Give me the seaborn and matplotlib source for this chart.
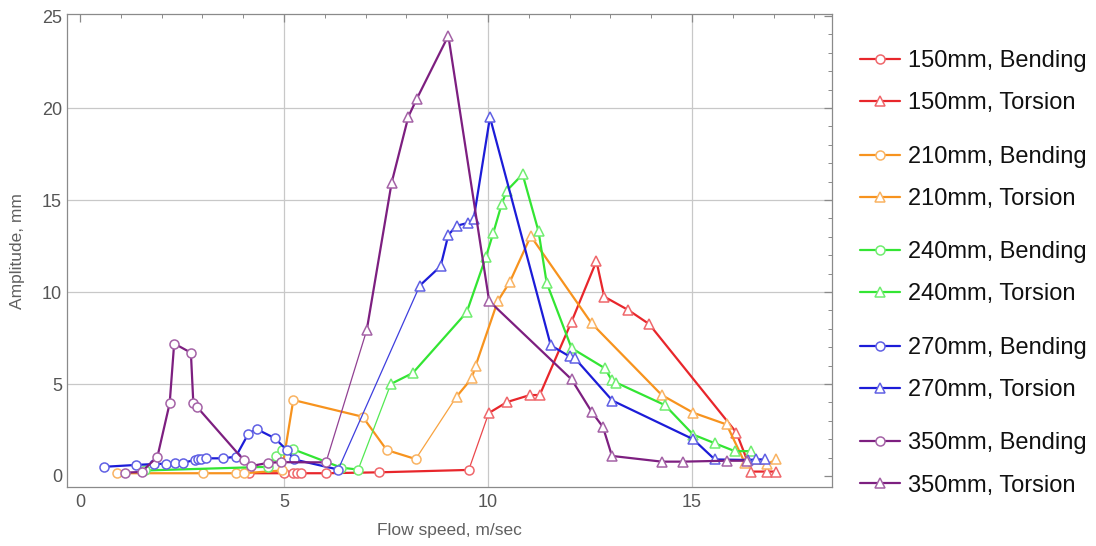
import matplotlib
matplotlib.use("Agg")
import matplotlib.pyplot as plt
import seaborn as sns
import pandas as pd
from matplotlib.colors import to_rgb

# 150 mm
red_bend_x = [4.15, 5.0, 5.23, 5.33, 5.43, 6.03, 7.34, 9.53]
red_bend_y = [0.15, 0.15, 0.15, 0.15, 0.15, 0.15, 0.2, 0.33]
red_tors_x = [10.02, 10.47, 11.03, 11.27, 12.05, 12.66, 12.85, 13.44, 13.95, 16.09, 16.46, 16.85, 17.07]
red_tors_y = [3.42, 4.02, 4.4, 4.4, 8.39, 11.68, 9.75, 9.02, 8.26, 2.36, 0.24, 0.24, 0.24]

# 210 mm
org_bend_x = [0.9, 3.02, 3.82, 4.02, 4.95, 5.23, 6.93, 7.52, 8.23]
org_bend_y = [0.15, 0.15, 0.15, 0.15, 0.3, 4.13, 3.22, 1.41, 0.92]
org_tors_x = [9.23, 9.6, 9.7, 10.24, 10.54, 11.05, 12.54, 14.26, 15.03, 15.85, 16.3, 16.85, 17.07]
org_tors_y = [4.31, 5.3, 6.0, 9.5, 10.56, 13.04, 8.3, 4.4, 3.44, 2.8, 0.7, 0.65, 0.9]

# 240 mm
grn_bend_x = [1.6, 4.62, 4.8, 4.95, 5.23, 6.41, 6.82]
grn_bend_y = [0.3, 0.5, 1.1, 1.4, 1.45, 0.45, 0.35]
grn_tors_x = [7.62, 8.16, 9.48, 9.95, 10.13, 10.34, 10.46, 10.85, 11.24, 11.44, 12.05,
              12.87, 13.03, 13.15, 14.34, 15.03, 15.56, 16.05, 16.46]
grn_tors_y = [5.0, 5.6, 8.9, 11.9, 13.2, 14.8, 15.5, 16.4, 13.3, 10.5, 6.95,
              5.85, 5.22, 5.07, 3.85, 2.25, 1.78, 1.35, 1.35]

# 270 mm
blu_bend_x = [0.6, 1.37, 1.82, 2.11, 2.33, 2.53, 2.82, 2.9, 2.98, 3.1, 3.51, 3.82,
              4.13, 4.33, 4.78, 5.07, 5.25, 6.33]
blu_bend_y = [0.5, 0.6, 0.65, 0.67, 0.68, 0.72, 0.87, 0.9, 0.95, 0.96, 0.96, 1.05,
              2.3, 2.55, 2.05, 1.41, 0.9, 0.35]
blu_tors_x = [8.33, 8.84, 9.03, 9.23, 9.5, 9.65, 10.05, 11.54, 12.0, 12.13, 13.05,
              15.03, 15.56, 16.38, 16.58, 16.79]
blu_tors_y = [10.35, 11.4, 13.1, 13.6, 13.75, 13.95, 19.5, 7.1, 6.5, 6.4, 4.1,
              2.0, 0.9, 0.87, 0.9, 0.9]

# 350 mm
pur_bend_x = [1.1, 1.51, 1.9, 2.2, 2.31, 2.72, 2.78, 2.88, 4.02, 4.2, 4.62, 4.93, 6.03]
pur_bend_y = [0.18, 0.22, 1.05, 3.95, 7.2, 6.7, 3.95, 3.73, 0.85, 0.54, 0.72, 0.75, 0.74]
pur_tors_x = [7.03, 7.64, 8.05, 8.25, 9.03, 10.03, 12.05, 12.54, 12.82, 13.04, 14.26,
              14.77, 15.85, 16.36]
pur_tors_y = [7.93, 15.94, 19.53, 20.47, 23.93, 9.51, 5.25, 3.5, 2.66, 1.09, 0.78,
              0.78, 0.83, 0.83]

sizes = ["150mm", "210mm", "240mm", "270mm", "350mm"]
colors = ["#e8262b", "#f7931e", "#33e533", "#1c1cd8", "#7d1f80"]

series = [
    (red_bend_x, red_bend_y, red_tors_x, red_tors_y),
    (org_bend_x, org_bend_y, org_tors_x, org_tors_y),
    (grn_bend_x, grn_bend_y, grn_tors_x, grn_tors_y),
    (blu_bend_x, blu_bend_y, blu_tors_x, blu_tors_y),
    (pur_bend_x, pur_bend_y, pur_tors_x, pur_tors_y),
]


def lighten(c, f=0.3):
    r, g, b = to_rgb(c)
    return (r + (1 - r) * f, g + (1 - g) * f, b + (1 - b) * f)


sns.set_theme(style="white")
plt.rcParams["font.family"] = ["Liberation Sans", "DejaVu Sans"]

fig = plt.figure(figsize=(10.96, 5.46), dpi=100)
ax = fig.add_axes([0.061, 0.108, 0.698, 0.866])

handles = []
for (bx, by, tx, ty), col, size in zip(series, colors, sizes):
    mec = lighten(col, 0.3)
    # thin connector from the last bending point to the first torsion point
    conn = pd.DataFrame({"x": [bx[-1], tx[0]], "y": [by[-1], ty[0]]})
    sns.lineplot(data=conn, x="x", y="y", ax=ax, sort=False, estimator=None,
                 color=lighten(col, 0.15), linewidth=0.9)
    bend = pd.DataFrame({"x": bx, "y": by})
    tors = pd.DataFrame({"x": tx, "y": ty})
    sns.lineplot(data=bend, x="x", y="y", ax=ax, sort=False, estimator=None,
                 color=col, linewidth=1.6, marker="o", markersize=6.5,
                 markerfacecolor="white", markeredgecolor=mec, markeredgewidth=1.1)
    hb = ax.lines[-1]
    sns.lineplot(data=tors, x="x", y="y", ax=ax, sort=False, estimator=None,
                 color=col, linewidth=1.6, marker="^", markersize=7.5,
                 markerfacecolor="white", markeredgecolor=mec, markeredgewidth=1.1)
    ht = ax.lines[-1]
    handles.append((hb, ht, size))

for v in [5, 10, 15]:
    ax.axvline(v, color="#c8c8c8", lw=0.9, zorder=0)
for h in [5, 10, 15, 20]:
    ax.axhline(h, color="#c8c8c8", lw=0.9, zorder=0)

ax.set_xlim(-0.32, 18.43)
ax.set_ylim(-0.6, 25.1)
ax.set_xticks([0, 5, 10, 15])
ax.set_yticks([0, 5, 10, 15, 20, 25])
ax.set_xticks(range(0, 19), minor=True)
ax.set_yticks(range(0, 26), minor=True)
ax.tick_params(which="both", direction="in", top=True, right=True,
               colors="#8a8a8a", labelcolor="#555555", labelsize=13)
ax.tick_params(which="major", length=6, width=0.9)
ax.tick_params(which="minor", length=3, width=0.7)
ax.tick_params(axis="x", pad=5)
for sp in ax.spines.values():
    sp.set_color("#8a8a8a")
    sp.set_linewidth(0.9)

ax.set_xlabel("Flow speed, m/sec", fontsize=12.5, color="#606060", labelpad=9)
ax.set_ylabel("Amplitude, mm", fontsize=12.5, color="#606060", labelpad=12)

pair_centres = [82, 178, 273, 369, 464.5]
for (hb, ht, size), yc in zip(handles, pair_centres):
    fig.legend([hb, ht], [f"{size}, Bending", f"{size}, Torsion"],
               loc="center left", bbox_to_anchor=(0.785, 1 - yc / 546),
               frameon=False, fontsize=17, handlelength=1.7, handletextpad=0.3,
               labelspacing=0.85, borderpad=0, borderaxespad=0, labelcolor="#111111")

fig.savefig("out.png", dpi=100)
